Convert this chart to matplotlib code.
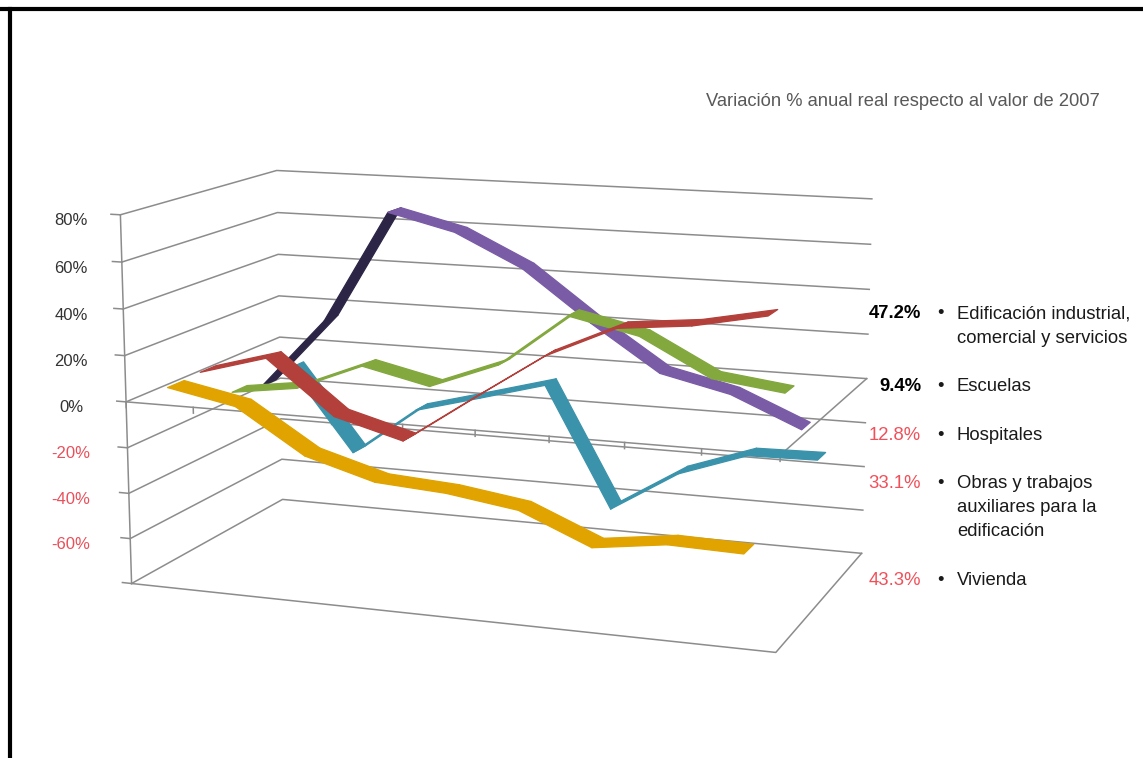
import numpy as np
import matplotlib.pyplot as plt
from matplotlib.lines import Line2D
from mpl_toolkits.mplot3d.art3d import Poly3DCollection

plt.rcParams['font.family'] = ['Liberation Sans', 'DejaVu Sans']

# variacion % anual real respecto a 2007, un valor por anio
anios = np.arange(2008, 2017)
vivienda = [5.8, -0.1, -18.9, -27.5, -29.5, -33.9, -46.7, -42.5, -43.3]
edificacion = [6.4, 14.8, -8.5, -16.7, 4.0, 24.2, 38.1, 41.1, 47.2]
escuelas = [-8.7, -4.6, 7.6, 0.8, 12.4, 35.9, 29.2, 13.3, 9.4]
hospitales = [-12.1, 20.3, 71.3, 64.0, 49.6, 27.4, 7.3, 0.3, -12.8]
obras = [-9.5, -47.7, -25.1, -17.0, -8.7, -63.7, -44.6, -33.7, -33.1]

# series de delante hacia atras
series = [vivienda, edificacion, escuelas, hospitales, obras]
colores = ['#e0a300', '#b3403a', '#82a83e', '#7a5ba6', '#3a93ab']
colores_reverso = ['#8a6400', '#6e2420', '#4f6a22', '#2d2546', '#1f5a6a']

# textos de la derecha (orden alfabetico)
nombres = ['Edificación industrial,\ncomercial y servicios', 'Escuelas', 'Hospitales',
           'Obras y trabajos\nauxiliares para la\nedificación', 'Vivienda']
finales = [edificacion[-1], escuelas[-1], hospitales[-1], obras[-1], vivienda[-1]]

niveles = np.arange(-80, 81, 20)

W, H = 1143, 758
fig = plt.figure(figsize=(W / 100, H / 100), dpi=100)
ax = fig.add_axes([0.16085, 0.06313, 0.54545, 0.82249], projection='3d',
                  computed_zorder=False)
ax.set_proj_type('persp', focal_length=0.787)
ax.view_init(elev=12, azim=-70)
ax.set_box_aspect((1, 0.545, 0.562), zoom=1.3)
ax.set_axis_off()

nx, ny = len(anios), len(series)
gris = '#8c8c8c'
lw = 1.1
rejilla = dict(color=gris, lw=lw, zorder=1, clip_on=False)

# paredes: lateral izquierda y fondo
for z in niveles:
    ax.plot([0, 0, nx], [0, ny, ny], [z, z, z], **rejilla)
    ax.plot([-0.14, 0], [0, 0], [z, z], **rejilla)
ax.plot([0, 0], [0, 0], [niveles[0], niveles[-1]], **rejilla)

# suelo y plano del eje de categorias
for z in (niveles[0], 0):
    ax.plot([0, nx, nx], [0, 0, ny], [z, z, z], **rejilla)
for k in range(nx + 1):
    ax.plot([k, k], [0, 0], [0, -2.5], **rejilla)

# cintas 3D de cada serie
xs = np.arange(nx) + 0.5
media = 0.25
for j, vals in enumerate(series):
    yc = j + 0.5
    verts, fc = [], []
    for i in range(nx - 1):
        verts.append([(xs[i], yc - media, vals[i]), (xs[i + 1], yc - media, vals[i + 1]),
                      (xs[i + 1], yc + media, vals[i + 1]), (xs[i], yc + media, vals[i])])
        fc.append(colores_reverso[j] if vals[i + 1] - vals[i] > 30 else colores[j])
    pc = Poly3DCollection(verts, facecolors=fc, edgecolors=fc, linewidths=0.9,
                          zorder=10 - j, clip_on=False)
    ax.add_collection3d(pc)

ax.set_xlim(0, nx)
ax.set_ylim(0, ny)
ax.set_zlim(niveles[0], niveles[-1])

# etiquetas del eje de valores: se proyecta cada marca y se escribe en 2D
M = ax.get_proj()
for z in niveles[1:]:
    p = M @ np.array([0.0, 0.0, z, 1.0])
    px, py = ax.transData.transform((p[0] / p[3], p[1] / p[3]))
    fig.text(71 / W, (py - 6) / H, f'{z}%', ha='center', va='center', fontsize=12,
             color='#e8505b' if z < 0 else '#333333')

fig.text(1100 / W, 1 - 102 / H, 'Variación % anual real respecto al valor de 2007',
         ha='right', va='center', fontsize=13.2, color='#595959')

# bloque de etiquetas con la variacion final
y = 314
paso = 24.2
for nombre, v in zip(nombres, finales):
    neg = v < 0
    fig.text(921 / W, 1 - y / H, f'{abs(v):.1f}%', ha='right', va='center',
             fontsize=13.3, fontweight='normal' if neg else 'bold',
             color='#f0505a' if neg else '#000000')
    fig.text(940 / W, 1 - y / H, '•', ha='center', va='center', fontsize=13.3,
             color='#1a1a1a')
    lineas = nombre.split('\n')
    for k, linea in enumerate(lineas):
        fig.text(957 / W, 1 - (y + k * paso) / H, linea, ha='left', va='center',
                 fontsize=13.3, color='#1a1a1a')
    y += (len(lineas) + 1) * paso

# marco
fig.add_artist(Line2D([0, 1], [1 - 9 / H] * 2, color='black', lw=3,
                      transform=fig.transFigure))
fig.add_artist(Line2D([10 / W] * 2, [0, 1 - 9 / H], color='black', lw=3,
                      transform=fig.transFigure))

fig.savefig('out.png', dpi=100)
